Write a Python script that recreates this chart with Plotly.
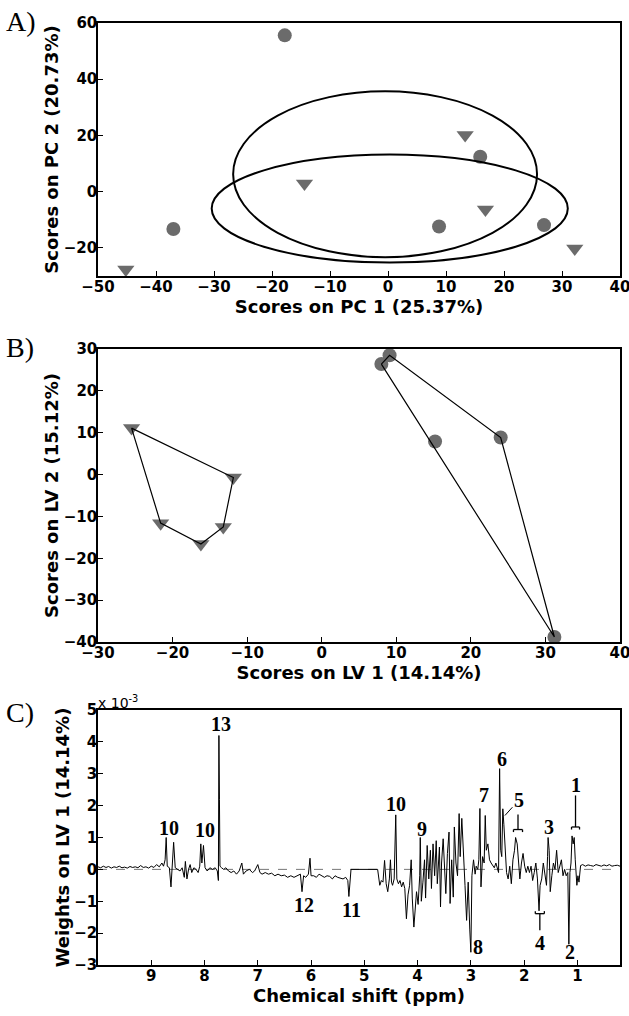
import plotly.graph_objects as go

# ---------------- Panel A : PCA scores ----------------
pc_circle_x = [-17.8, -37.0, 8.8, 15.9, 26.9]
pc_circle_y = [55.6, -13.3, -12.4, 12.4, -11.9]
pc_tri_x = [-45.2, -14.4, 13.3, 16.8, 32.2]
pc_tri_y = [-27.7, 2.9, 20.2, -6.3, -20.2]
ellipse_cx = [-0.5, 0.3]
ellipse_cy = [6.2, -6.0]
ellipse_rx = [26.2, 30.7]
ellipse_ry = [29.5, 19.2]

# ---------------- Panel B : PLS-DA scores ----------------
lv_circle_x = [8.0, 9.1, 24.0, 31.2, 15.2]
lv_circle_y = [26.4, 28.5, 8.85, -38.8, 7.9]
lv_circle_hull = [0, 1, 2, 3, 0]
lv_tri_x = [-25.5, -11.85, -13.2, -16.2, -21.6]
lv_tri_y = [11.1, -0.7, -12.5, -16.6, -11.6]
lv_tri_hull = [0, 1, 2, 3, 4, 0]

# ---------------- Panel C : LV1 weights (x 1e-3) ----------------
shift_ppm = [
    10.0, 9.95, 9.9, 9.85, 9.8, 9.75, 9.7, 9.65, 9.6, 9.55, 9.5, 9.45, 9.4, 9.35, 9.3, 9.25,
    9.2, 9.15, 9.1, 9.05, 9.0, 8.95, 8.9, 8.85, 8.8, 8.77, 8.74, 8.72, 8.70, 8.66, 8.63, 8.61,
    8.58, 8.55, 8.5, 8.46, 8.42, 8.38, 8.36, 8.33, 8.3, 8.27, 8.24, 8.2, 8.16, 8.12, 8.09, 8.07,
    8.05, 8.02, 7.99, 7.95, 7.9, 7.85, 7.8, 7.76, 7.74, 7.73, 7.72, 7.71, 7.68, 7.64, 7.6, 7.55,
    7.5, 7.45, 7.4, 7.35, 7.3, 7.27, 7.22, 7.16, 7.1, 7.06, 7.0, 6.96, 6.92, 6.86, 6.8, 6.74,
    6.68, 6.62, 6.56, 6.5, 6.44, 6.38, 6.32, 6.26, 6.2, 6.17, 6.14, 6.1, 6.05, 6.02, 6.0, 5.95,
    5.9, 5.85, 5.8, 5.75, 5.7, 5.65, 5.6, 5.55, 5.5, 5.45, 5.4, 5.35, 5.31, 5.29, 5.27, 5.25,
    4.75, 4.73, 4.71, 4.68, 4.65, 4.62, 4.59, 4.56, 4.53, 4.51, 4.49, 4.47, 4.44, 4.41, 4.39, 4.36,
    4.33, 4.3, 4.27, 4.24, 4.21, 4.18, 4.15, 4.12, 4.1, 4.07, 4.04, 4.02, 3.99, 3.96, 3.95, 3.93,
    3.9, 3.87, 3.85, 3.82, 3.79, 3.76, 3.74, 3.71, 3.68, 3.65, 3.63, 3.61, 3.59, 3.57, 3.55, 3.52,
    3.49, 3.47, 3.44, 3.41, 3.39, 3.36, 3.33, 3.31, 3.28, 3.25, 3.22, 3.2, 3.17, 3.14, 3.11, 3.08,
    3.05, 3.02, 3.0, 2.98, 2.95, 2.92, 2.9, 2.87, 2.85, 2.83, 2.81, 2.78, 2.75, 2.73, 2.71, 2.68,
    2.65, 2.62, 2.59, 2.56, 2.53, 2.5, 2.48, 2.46, 2.44, 2.42, 2.4, 2.38, 2.35, 2.33, 2.3, 2.27,
    2.24, 2.21, 2.18, 2.16, 2.13, 2.11, 2.08, 2.05, 2.02, 1.99, 1.96, 1.93, 1.9, 1.87, 1.84, 1.81,
    1.78, 1.75, 1.72, 1.7, 1.67, 1.64, 1.61, 1.58, 1.56, 1.55, 1.53, 1.51, 1.48, 1.45, 1.42, 1.39,
    1.36, 1.33, 1.3, 1.27, 1.24, 1.21, 1.18, 1.16, 1.14, 1.12, 1.1, 1.08, 1.06, 1.04, 1.01, 0.99,
    0.97, 0.94, 0.9, 0.85, 0.8, 0.75, 0.7, 0.65, 0.6, 0.55, 0.5, 0.45, 0.4, 0.35, 0.3, 0.25, 0.2,
]
weight_lv1 = [
    0.08, 0.05, 0.10, 0.06, 0.09, 0.04, 0.08, 0.06, 0.10, 0.05, 0.07, 0.04, 0.09, 0.06, 0.08, 0.05,
    0.12, 0.06, 0.08, 0.04, 0.10, 0.06, 0.15, 0.08, 0.20, 0.10, 0.30, 1.00, 0.10, 0.05, -0.55, 0.10,
    0.85, 0.05, 0.00, -0.05, 0.05, -0.25, 0.25, -0.30, 0.00, 0.15, -0.10, 0.05, 0.00, -0.10, 0.10, 0.80,
    0.20, 0.75, 0.05, -0.05, 0.05, 0.00, 0.05, -0.05, -0.35, 4.20, 2.20, 0.10, 0.05, 0.00, 0.05, -0.05,
    -0.10, -0.05, -0.15, -0.05, 0.20, -0.15, -0.05, 0.00, -0.10, -0.05, 0.15, -0.10, -0.15, -0.10, -0.15, -0.12,
    -0.20, -0.15, -0.20, -0.18, -0.25, -0.20, -0.25, -0.20, -0.15, -0.70, -0.20, -0.25, -0.15, 0.35, -0.20, -0.20,
    -0.25, -0.15, -0.20, -0.25, -0.20, -0.22, -0.30, -0.20, -0.25, -0.28, -0.30, -0.25, -0.35, -0.85, -0.25, 0.00,
    0.00, -0.30, -0.50, -0.35, -0.40, 0.28, -0.45, -0.70, -0.30, 0.30, -0.40, -0.50, -0.30, 1.71, -0.30, -0.45,
    -0.35, -0.55, -0.40, -0.60, -1.55, -0.80, -0.50, 0.30, -0.90, -1.81, -1.00, -0.70, -1.10, -0.20, 1.00, -1.00,
    -0.40, 0.30, -0.90, 0.75, -0.30, 0.60, -0.60, 0.80, -0.20, 0.90, -0.45, 0.30, 0.70, -1.18, 0.20, 0.96,
    -0.30, -0.76, 0.50, 1.17, -1.07, 0.30, -0.87, 1.33, 0.20, -0.20, 1.75, 0.40, 1.60, 0.30, -0.50, -1.60,
    -0.40, -1.90, -2.60, -0.20, 0.30, -0.15, 0.10, 0.00, 0.30, 1.91, -0.55, 0.40, 0.20, 1.69, 0.60, 0.80,
    0.30, 0.20, 0.10, 0.05, 0.20, -0.05, -0.10, 3.16, 0.60, 0.40, 1.90, 1.40, 0.30, -0.10, -0.30, 0.10,
    -0.45, 0.30, 0.60, 1.00, 0.80, 0.30, -0.30, 0.20, 0.50, 0.10, -0.10, 0.10, -0.10, 0.10, -0.35, -0.10,
    0.20, -0.30, -1.30, -0.50, -0.30, 0.20, -0.10, -0.50, 0.40, 1.00, 0.60, -0.70, -0.20, 0.20, 0.00, 0.60,
    -0.10, 0.10, 0.30, -0.20, 0.00, -0.20, -0.10, -2.35, -0.10, 0.20, 1.05, 0.80, 1.00, 0.30, -0.50, -0.20,
    -0.40, 0.12, 0.15, 0.10, 0.14, 0.12, 0.10, 0.15, 0.12, 0.10, 0.14, 0.11, 0.15, 0.10, 0.12, 0.13, 0.10,
]

peak_labels = ["10", "10", "13", "10", "9", "7", "6", "5", "3", "1", "12", "11", "8", "4", "2"]
peak_label_ppm = [8.67, 8.0, 7.70, 4.41, 3.92, 2.76, 2.42, 2.10, 1.54, 1.03, 6.13, 5.24, 2.86, 1.71, 1.13]
peak_label_w = [1.29, 1.22, 4.55, 2.04, 1.27, 2.32, 3.47, 2.19, 1.33, 2.65, -1.13, -1.29, -2.43, -2.31, -2.59]

# bracket markers: centre ppm, half width, bracket level, stem end, tick direction
bracket_ppm = [1.035, 2.115, 1.705]
bracket_half = [0.075, 0.085, 0.085]
bracket_level = [1.33, 1.25, -1.39]
bracket_stem_end = [2.32, 1.72, -1.91]
bracket_dir = [-1, -1, 1]

SANS = "DejaVu Sans, Liberation Sans, Arial, sans-serif"
SERIF = "Liberation Serif, Times New Roman, serif"
GREY = "#6b6b6b"

fig = go.Figure()

# Panel A
fig.add_trace(go.Scatter(x=pc_circle_x, y=pc_circle_y, mode="markers",
                         marker=dict(symbol="circle", size=14, color=GREY),
                         xaxis="x", yaxis="y", showlegend=False))
fig.add_trace(go.Scatter(x=pc_tri_x, y=pc_tri_y, mode="markers",
                         marker=dict(symbol="triangle-down", size=15, color=GREY),
                         xaxis="x", yaxis="y", showlegend=False))

# Panel B
fig.add_trace(go.Scatter(x=lv_circle_x, y=lv_circle_y, mode="markers",
                         marker=dict(symbol="circle", size=14, color=GREY),
                         xaxis="x2", yaxis="y2", showlegend=False))
fig.add_trace(go.Scatter(x=lv_tri_x, y=lv_tri_y, mode="markers",
                         marker=dict(symbol="triangle-down", size=15, color=GREY),
                         xaxis="x2", yaxis="y2", showlegend=False))
fig.add_trace(go.Scatter(x=[lv_circle_x[i] for i in lv_circle_hull],
                         y=[lv_circle_y[i] for i in lv_circle_hull], mode="lines",
                         line=dict(color="black", width=1.2),
                         xaxis="x2", yaxis="y2", showlegend=False))
fig.add_trace(go.Scatter(x=[lv_tri_x[i] for i in lv_tri_hull],
                         y=[lv_tri_y[i] for i in lv_tri_hull], mode="lines",
                         line=dict(color="black", width=1.2),
                         xaxis="x2", yaxis="y2", showlegend=False))

# Panel C
fig.add_trace(go.Scatter(x=[shift_ppm[0], shift_ppm[-1]], y=[0, 0], mode="lines",
                         line=dict(color="#777777", width=1, dash="dash"),
                         xaxis="x3", yaxis="y3", showlegend=False))
fig.add_trace(go.Scatter(x=shift_ppm, y=weight_lv1, mode="lines",
                         line=dict(color="black", width=1),
                         xaxis="x3", yaxis="y3", showlegend=False))

shapes = []
for cx, cy, rx, ry in zip(ellipse_cx, ellipse_cy, ellipse_rx, ellipse_ry):
    shapes.append(dict(type="circle", xref="x", yref="y", x0=cx - rx, x1=cx + rx,
                       y0=cy - ry, y1=cy + ry, line=dict(color="black", width=2)))

for c, h, lvl, stem, d in zip(bracket_ppm, bracket_half, bracket_level, bracket_stem_end, bracket_dir):
    tick = 0.08 * d
    for seg in [(c, c, lvl, stem), (c - h, c + h, lvl, lvl),
                (c - h, c - h, lvl, lvl + tick), (c + h, c + h, lvl, lvl + tick)]:
        shapes.append(dict(type="line", xref="x3", yref="y3", x0=seg[0], x1=seg[1],
                           y0=seg[2], y1=seg[3], line=dict(color="black", width=1.3)))
# pointer for label 5
shapes.append(dict(type="line", xref="x3", yref="y3", x0=2.22, x1=2.36, y0=1.95, y1=1.69,
                   line=dict(color="black", width=1)))

annotations = []
for t, px, py in zip(peak_labels, peak_label_ppm, peak_label_w):
    annotations.append(dict(text=t, x=px, y=py, xref="x3", yref="y3", showarrow=False,
                            font=dict(family=SERIF, size=20, color="black", weight="bold")))

H = 1016.0
W = 629.0
for lab, ypx in zip(["A)", "B)", "C)"], [22, 347, 712]):
    annotations.append(dict(text=lab, x=4 / W, y=1 - ypx / H, xref="paper", yref="paper",
                            xanchor="left", yanchor="middle", showarrow=False,
                            font=dict(family=SERIF, size=28, color="black")))
annotations.append(dict(text="x 10<sup>-3</sup>", x=96 / W, y=1 - 702 / H, xref="paper", yref="paper",
                        xanchor="left", yanchor="middle", showarrow=False,
                        font=dict(family=SANS, size=14, color="black")))

xdom = [98 / W, 620 / W]


def ax(rng, dtick, title, dom, anchor, is_x, tickvals=None):
    d = dict(range=rng, showgrid=False, zeroline=False, showline=True, linecolor="black",
             linewidth=1.5, mirror=True, ticks="inside", ticklen=5, tickcolor="black",
             automargin=False, ticklabeloverflow="allow",
             tickfont=dict(family=SANS, size=15, color="black", weight="bold"),
             ticklabelstandoff=-4,
             title=dict(text=title, font=dict(family=SANS, size=18, color="black", weight="bold"),
                        standoff=4 if is_x else 0),
             domain=dom, anchor=anchor)
    if tickvals is not None:
        d["tickmode"] = "array"
        d["tickvals"] = tickvals
    else:
        d["dtick"] = dtick
    return d


fig.update_layout(
    width=629, height=1016, margin=dict(l=0, r=0, t=0, b=0, autoexpand=False),
    plot_bgcolor="white", paper_bgcolor="white",
    xaxis=ax([-50, 40], 10, "Scores on PC 1 (25.37%)", xdom, "y", True),
    yaxis=ax([-30, 60], 20, "Scores on PC 2 (20.73%)", [1 - 276 / H, 1 - 23 / H], "x", False,
             tickvals=[-20, 0, 20, 40, 60]),
    xaxis2=ax([-30, 40], 10, "Scores on LV 1 (14.14%)", xdom, "y2", True),
    yaxis2=ax([-40, 30], 10, "Scores on LV 2 (15.12%)", [1 - 642 / H, 1 - 349 / H], "x2", False),
    xaxis3=ax([10, 0.2], 1, "Chemical shift (ppm)", xdom, "y3", True,
              tickvals=[1, 2, 3, 4, 5, 6, 7, 8, 9]),
    yaxis3=ax([-3, 5], 1, "Weights on LV 1 (14.14%)", [1 - 965 / H, 1 - 710 / H], "x3", False),
    shapes=shapes, annotations=annotations,
)

fig.write_html("out.html")
